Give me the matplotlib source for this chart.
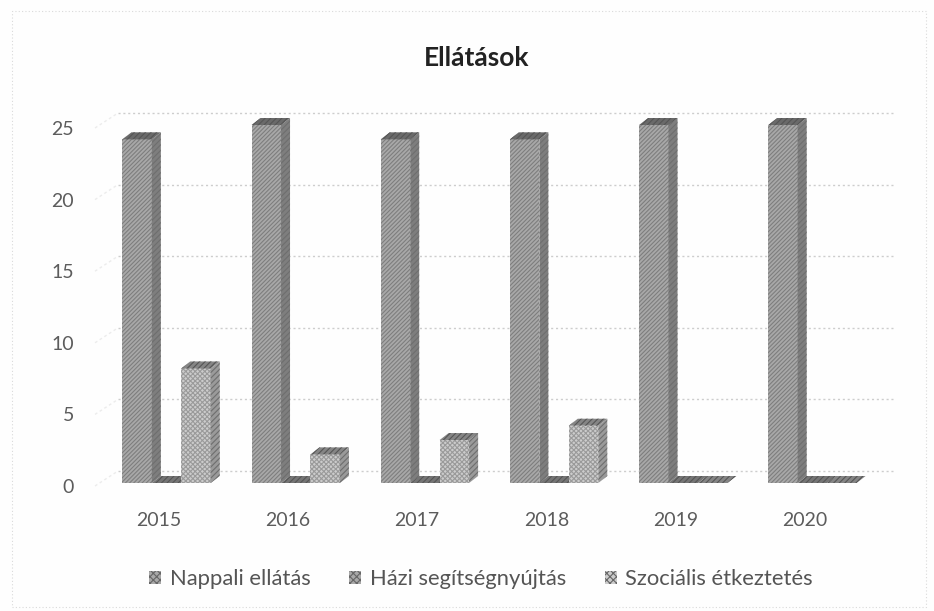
# Ellatasok 3d style column chart
import numpy as np
from matplotlib import pyplot as plt
from matplotlib.patches import Polygon, Patch
from matplotlib.transforms import IdentityTransform, ScaledTranslation, offset_copy

years = ["2015", "2016", "2017", "2018", "2019", "2020"]
nappali = [24, 25, 24, 24, 25, 25]
hazi = [0, 0, 0, 0, 0, 0]
szocialis = [8, 2, 3, 4, 0, 0]
y_ticks = [0, 5, 10, 15, 20, 25]
series_names = ["Nappali ellátás", "Házi segítségnyújtás", "Szociális étkeztetés"]

W, H = 934, 611
plt.rcParams["font.family"] = ["Lato", "DejaVu Sans"]
plt.rcParams["hatch.linewidth"] = 0.8

fig = plt.figure(figsize=(W / 100, H / 100), dpi=100, facecolor="#fefefe")
# front plane of the chart in pixels
left, right, bottom, top = 102, 877, 483, 125
ax = fig.add_axes([left / W, 1 - bottom / H, (right - left) / W, (bottom - top) / H])
ax.set_xlim(-0.5, 5.5)
ax.set_ylim(0, 25)
ax.patch.set_alpha(0)
for s in ax.spines.values():
    s.set_visible(False)

# back wall gridlines, shifted behind the front plane
back = offset_copy(ax.transData, fig=fig, x=16, y=12, units="dots")
for v in y_ticks:
    ax.plot([-0.5, 5.5], [v, v], transform=back, color="#cdcdcd", lw=1, ls=(0, (1.5, 2)),
            clip_on=False, zorder=1)
    # wall edge
    p0 = ax.transData.transform((-0.5, v))
    ax.plot([p0[0] - 7, p0[0] + 16], [p0[1] - 3, p0[1] + 12], transform=IdentityTransform(),
            color="#ececec", lw=1, ls=(0, (2, 2)), clip_on=False, zorder=1)

x = np.arange(len(years))
width = 0.228
dx, dy = 9, 7
styles = [
    ("#a8a8a8", "#7e7e7e", "////////", "#7e7e7e", "#6a6a6a"),
    ("#a8a8a8", "#6e6e6e", "xxxxxxx", "#7a7a7a", "#757575"),
    ("#cccccc", "#9a9a9a", "xxxxxxx", "#9a9a9a", "#858585"),
]
series = [nappali, hazi, szocialis]
handles = []
for i, vals in enumerate(series):
    face, edge, hatch, side, top_c = styles[i]
    xpos = x + (i - 1) * width
    ax.bar(xpos, vals, width, color=face, edgecolor=edge, hatch=hatch, lw=0, zorder=3 + i, clip_on=False)
    for xp, v in zip(xpos, vals):
        x0, y0 = ax.transData.transform((xp - width / 2, 0))
        x1, y1 = ax.transData.transform((xp + width / 2, v))
        side_pts = [(x1, y0), (x1 + dx, y0 + dy), (x1 + dx, y1 + dy), (x1, y1)]
        top_pts = [(x0, y1), (x0 + dx, y1 + dy), (x1 + dx, y1 + dy), (x1, y1)]
        ax.add_patch(Polygon(side_pts, transform=IdentityTransform(), facecolor=side, edgecolor="#6e6e6e",
                             hatch="//////", lw=0, zorder=3 + i, clip_on=False))
        ax.add_patch(Polygon(top_pts, transform=IdentityTransform(), facecolor=top_c, edgecolor="#555555",
                             hatch="//////", lw=0, zorder=3 + i, clip_on=False))
    handles.append(Patch(facecolor=styles[i][0], edgecolor="#666666", hatch="xxxxx", lw=0))

ax.set_xticks(x - 0.06)
ax.set_xticklabels(years)
ax.set_yticks(y_ticks)
ax.tick_params(length=0, labelcolor="#5c5c5c", labelsize=14)
ax.tick_params(axis="x", pad=21)
ax.tick_params(axis="y", pad=20)
# value labels sit a little below their level
for lbl in ax.get_yticklabels():
    lbl.set_transform(lbl.get_transform() + ScaledTranslation(0, -3 / 100, fig.dpi_scale_trans))

fig.text(477 / W, 1 - 58 / H, "Ellátások", ha="center", va="center", fontsize=19,
         fontweight="bold", color="#222222")

fig.legend(handles, series_names, loc="center", bbox_to_anchor=(481 / W, 1 - 579 / H), ncol=3,
           frameon=False, fontsize=15.8, labelcolor="#555555", handlelength=0.55, handleheight=0.55,
           handletextpad=0.4, columnspacing=1.75)

# dotted chart border
fig.add_artist(plt.Rectangle((12 / W, 1 - 607 / H), 914 / W, 596 / H, transform=fig.transFigure,
                             fill=False, edgecolor="#dadada", lw=0.8, ls=(0, (1, 2))))

fig.savefig("out.png", dpi=100)
